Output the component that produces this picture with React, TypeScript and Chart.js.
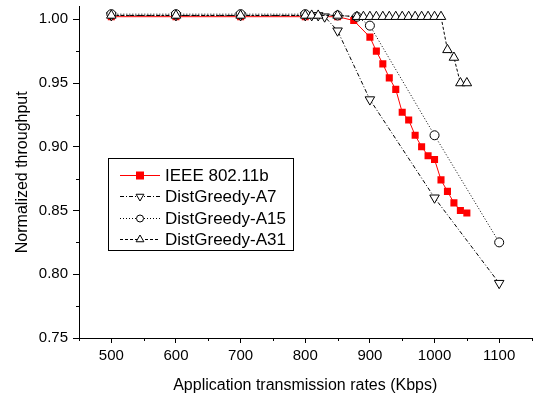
import React, { useEffect, useRef } from 'react';
import { Chart, registerables } from 'chart.js';

Chart.register(...registerables);

// ---- data ----
const xTickValues = [500, 600, 700, 800, 900, 1000, 1100];
const yTickValues = [0.75, 0.8, 0.85, 0.9, 0.95, 1.0];
const xMinorTicks = [450, 550, 650, 750, 850, 950, 1050, 1150];
const yMinorTicks = [0.775, 0.825, 0.875, 0.925, 0.975];

const ieeeX = [500, 600, 700, 800, 850, 875, 900, 910, 920, 930, 940, 950, 960, 970, 980, 990, 1000, 1010, 1020, 1030, 1040, 1050];
const ieeeY = [1.002, 1.002, 1.002, 1.002, 1.002, 0.999, 0.986, 0.975, 0.965, 0.954, 0.945, 0.927, 0.921, 0.909, 0.9, 0.893, 0.89, 0.874, 0.865, 0.856, 0.85, 0.848];

const a7X = [500, 600, 700, 800, 810, 820, 830, 850, 900, 1000, 1100];
const a7Y = [1.003, 1.003, 1.003, 1.003, 1.003, 1.003, 1.002, 0.991, 0.937, 0.86, 0.793];

const a15X = [500, 600, 700, 800, 850, 880, 900, 1000, 1100];
const a15Y = [1.004, 1.004, 1.004, 1.004, 1.003, 1.002, 0.995, 0.909, 0.825];

const a31X = [500, 600, 700, 800, 810, 820, 850, 880, 890, 900, 910, 920, 930, 940, 950, 960, 970, 980, 990, 1000, 1010, 1020, 1030, 1040, 1050];
const a31Y = [1.003, 1.003, 1.003, 1.003, 1.003, 1.003, 1.003, 1.002, 1.002, 1.002, 1.002, 1.002, 1.002, 1.002, 1.002, 1.002, 1.002, 1.002, 1.002, 1.002, 1.002, 0.976, 0.97, 0.95, 0.95];

const seriesNames = ['IEEE 802.11b', 'DistGreedy-A7', 'DistGreedy-A15', 'DistGreedy-A31'];

const FONT = '"Liberation Sans", Arial, Helvetica, sans-serif';

const toPts = (xs: number[], ys: number[]) => xs.map((x, i) => ({ x, y: ys[i] }));

function drawMarker(ctx: CanvasRenderingContext2D, kind: string, cx: number, cy: number, r: number) {
  ctx.beginPath();
  if (kind === 'rect') {
    ctx.rect(cx - r, cy - r, 2 * r, 2 * r);
    ctx.fillStyle = '#ff0000';
    ctx.fill();
    return;
  }
  if (kind === 'circle') {
    ctx.arc(cx, cy, r, 0, Math.PI * 2);
  } else if (kind === 'up') {
    ctx.moveTo(cx, cy - r);
    ctx.lineTo(cx + r * 0.866, cy + r * 0.5);
    ctx.lineTo(cx - r * 0.866, cy + r * 0.5);
    ctx.closePath();
  } else {
    ctx.moveTo(cx, cy + r);
    ctx.lineTo(cx + r * 0.866, cy - r * 0.5);
    ctx.lineTo(cx - r * 0.866, cy - r * 0.5);
    ctx.closePath();
  }
  ctx.fillStyle = '#fff';
  ctx.fill();
  ctx.setLineDash([]);
  ctx.strokeStyle = '#000';
  ctx.lineWidth = 1;
  ctx.stroke();
}

const legendPlugin = {
  id: 'boxLegend',
  afterDraw(chart: any) {
    const ctx: CanvasRenderingContext2D = chart.ctx;
    ctx.save();
    const bx = 108.5, by = 158.5, bw = 185, bh = 92;
    ctx.fillStyle = '#fff';
    ctx.fillRect(bx, by, bw, bh);
    ctx.strokeStyle = '#000';
    ctx.lineWidth = 1;
    ctx.setLineDash([]);
    ctx.strokeRect(bx, by, bw, bh);
    const kinds = ['rect', 'down', 'circle', 'up'];
    const dashes = [[], [4, 2, 1, 2], [1, 2], [3, 2]];
    const colors = ['#ff0000', '#000', '#000', '#000'];
    const radii = [4, 4.5, 3.5, 4.5];
    ctx.font = '17px ' + FONT;
    ctx.textBaseline = 'alphabetic';
    ctx.textAlign = 'left';
    for (let i = 0; i < 4; i++) {
      const base = 181 + i * 21.4;
      const cy = base - 6;
      ctx.beginPath();
      ctx.setLineDash(dashes[i]);
      ctx.strokeStyle = colors[i];
      ctx.lineWidth = 1;
      ctx.moveTo(120, Math.round(cy) + 0.5);
      ctx.lineTo(160, Math.round(cy) + 0.5);
      ctx.stroke();
      ctx.setLineDash([]);
      drawMarker(ctx, kinds[i], 140, Math.round(cy) + 0.5, radii[i]);
      ctx.fillStyle = '#000';
      ctx.fillText(seriesNames[i], 165, base);
    }
    ctx.restore();
  },
};

const minorTickPlugin = {
  id: 'minorTicks',
  afterDraw(chart: any) {
    const ctx: CanvasRenderingContext2D = chart.ctx;
    const xs = chart.scales.x;
    const ys = chart.scales.y;
    const area = chart.chartArea;
    ctx.save();
    ctx.strokeStyle = '#000';
    ctx.lineWidth = 1;
    ctx.setLineDash([]);
    ctx.beginPath();
    for (const v of xMinorTicks) {
      const p = Math.round(xs.getPixelForValue(v)) + 0.5;
      ctx.moveTo(p, area.bottom);
      ctx.lineTo(p, area.bottom + 3);
    }
    for (const v of yMinorTicks) {
      const p = Math.round(ys.getPixelForValue(v)) + 0.5;
      ctx.moveTo(area.left - 3, p);
      ctx.lineTo(area.left, p);
    }
    ctx.stroke();
    ctx.restore();
  },
};

export default function App() {
  const ref = useRef<HTMLCanvasElement | null>(null);

  useEffect(() => {
    document.body.style.margin = '0';
    const canvas = ref.current;
    if (!canvas) return;
    const chart = new Chart(canvas, {
      type: 'line',
      data: {
        datasets: [
          {
            label: seriesNames[0],
            data: toPts(ieeeX, ieeeY),
            borderColor: '#ff0000',
            backgroundColor: '#ff0000',
            borderWidth: 1,
            pointStyle: 'rect',
            pointRadius: 5,
            pointBackgroundColor: '#ff0000',
            pointBorderColor: '#ff0000',
            pointBorderWidth: 0,
            order: 4,
          },
          {
            label: seriesNames[1],
            data: toPts(a7X, a7Y),
            borderColor: '#000',
            borderWidth: 1,
            borderDash: [4, 2, 1, 2],
            pointStyle: 'triangle',
            pointRotation: 180,
            pointRadius: 5.5,
            pointBackgroundColor: '#fff',
            pointBorderColor: '#000',
            pointBorderWidth: 1,
            order: 3,
          },
          {
            label: seriesNames[2],
            data: toPts(a15X, a15Y),
            borderColor: '#000',
            borderWidth: 1,
            borderDash: [1, 2],
            pointStyle: 'circle',
            pointRadius: 4.5,
            pointBackgroundColor: '#fff',
            pointBorderColor: '#000',
            pointBorderWidth: 1,
            order: 2,
          },
          {
            label: seriesNames[3],
            data: toPts(a31X, a31Y),
            borderColor: '#000',
            borderWidth: 1,
            borderDash: [3, 2],
            pointStyle: 'triangle',
            pointRadius: 5.5,
            pointBackgroundColor: '#fff',
            pointBorderColor: '#000',
            pointBorderWidth: 1,
            order: 1,
          },
        ],
      },
      options: {
        responsive: false,
        animation: false,
        events: [],
        layout: { padding: { top: 0, right: 2, bottom: 0, left: 0 } },
        plugins: {
          legend: { display: false },
          tooltip: { enabled: false },
        },
        scales: {
          x: {
            type: 'linear',
            min: 450,
            max: 1150,
            afterBuildTicks: (s: any) => {
              s.ticks = xTickValues.map((v) => ({ value: v }));
            },
            afterFit: (s: any) => {
              s.height = 59;
              s.paddingLeft = 0;
              s.paddingRight = 0;
            },
            grid: { display: true, drawOnChartArea: false, drawTicks: true, tickLength: 5, color: '#000' },
            border: { display: true, color: '#000', width: 1 },
            ticks: {
              color: '#000',
              font: { family: FONT, size: 15 },
              padding: 4,
              maxRotation: 0,
              autoSkip: false,
              callback: (v: any) => String(v),
            },
            title: {
              display: true,
              text: 'Application transmission rates (Kbps)',
              color: '#000',
              font: { family: FONT, size: 16 },
              padding: { top: 0, bottom: 2 },
            },
          },
          y: {
            type: 'linear',
            min: 0.75,
            max: 1.01,
            afterBuildTicks: (s: any) => {
              s.ticks = yTickValues.map((v) => ({ value: v }));
            },
            afterFit: (s: any) => {
              s.width = 79;
              s.paddingTop = 0;
              s.paddingBottom = 0;
            },
            grid: { display: true, drawOnChartArea: false, drawTicks: true, tickLength: 6, color: '#000' },
            border: { display: true, color: '#000', width: 1 },
            ticks: {
              color: '#000',
              font: { family: FONT, size: 15 },
              padding: 5,
              autoSkip: false,
              callback: (v: any) => Number(v).toFixed(2),
            },
            title: {
              display: true,
              text: 'Normalized throughput',
              color: '#000',
              font: { family: FONT, size: 16 },
              padding: { top: 13, bottom: 0 },
            },
          },
        },
      },
      plugins: [minorTickPlugin, legendPlugin],
    } as any);
    return () => chart.destroy();
  }, []);

  return (
    <div style={{ position: 'absolute', left: 0, top: 0, width: 538, height: 397, background: '#fff' }}>
      <canvas ref={ref} width={538} height={397} style={{ width: 538, height: 397, display: 'block' }} />
    </div>
  );
}
